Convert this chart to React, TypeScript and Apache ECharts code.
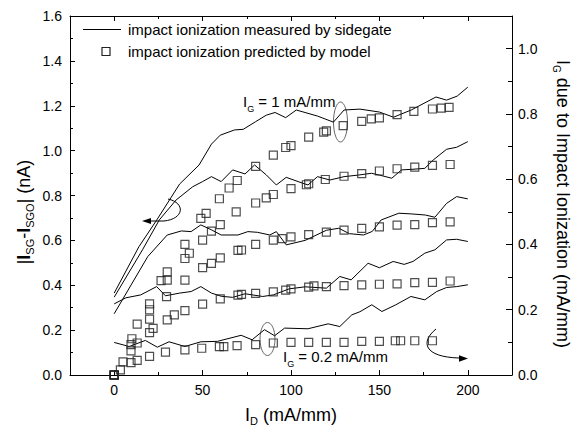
import React, { useEffect, useRef } from "react";
import * as echarts from "echarts";

const FONT = "'Liberation Sans', Arial, Helvetica, sans-serif";

// axis tick labels
const xTickValues = [0, 50, 100, 150, 200];

// measured by sidegate (left axis, nA) - five curves, top to bottom
const measAx = [0, 14, 24, 37, 48, 55, 60, 68, 73, 80, 86, 91, 97, 103, 115, 124, 130, 139, 150, 158, 168, 182, 188, 194, 200];
const measAy = [0.365, 0.572, 0.69, 0.851, 0.936, 1.029, 1.069, 1.092, 1.095, 1.129, 1.158, 1.17, 1.147, 1.181, 1.154, 1.127, 1.181, 1.185, 1.172, 1.149, 1.181, 1.239, 1.225, 1.243, 1.283];

const measBx = [0, 16, 25.5, 35, 44.4, 50, 55, 60.5, 67, 74, 79.4, 86, 91.7, 97.3, 104, 109.6, 115, 122, 130, 138, 145.5, 150, 157, 162.5, 169, 175.7, 180.4, 188, 193.7, 200];
const measBy = [0.347, 0.558, 0.691, 0.78, 0.839, 0.862, 0.884, 0.862, 0.914, 0.896, 0.936, 0.892, 0.847, 0.881, 0.862, 0.847, 0.884, 0.869, 0.884, 0.891, 0.899, 0.891, 0.877, 0.914, 0.917, 0.921, 0.958, 1.006, 1.015, 1.04];

const measCx = [0, 19, 30, 38, 43.5, 49, 55, 60.5, 70, 75.6, 81, 88, 91.7, 97.3, 108, 120, 127, 133, 141, 146, 151, 161, 168, 176, 181.4, 188, 193.7, 200];
const measCy = [0.273, 0.528, 0.624, 0.642, 0.639, 0.669, 0.647, 0.624, 0.624, 0.639, 0.636, 0.624, 0.639, 0.58, 0.6, 0.645, 0.654, 0.63, 0.624, 0.64, 0.691, 0.721, 0.718, 0.713, 0.703, 0.765, 0.795, 0.785];

const measDx = [0, 6.6, 15, 24, 29, 37, 43.5, 49, 55, 60.5, 67, 74, 84, 90, 99, 108, 120, 127.6, 134, 143.6, 150, 157.8, 164, 169, 175.7, 181.4, 188, 193.7, 200];
const measDy = [0.317, 0.344, 0.357, 0.394, 0.353, 0.365, 0.372, 0.394, 0.365, 0.351, 0.346, 0.362, 0.35, 0.357, 0.384, 0.393, 0.387, 0.439, 0.424, 0.498, 0.478, 0.506, 0.493, 0.506, 0.543, 0.558, 0.602, 0.605, 0.595];

const measEx = [0, 8.5, 17.6, 24.4, 31, 40, 49, 58.4, 71.8, 78, 85, 90.7, 96.4, 109.6, 121, 127.6, 134.4, 139, 145.7, 151.4, 159.3, 167.8, 175.7, 182.4, 188, 193.7, 200];
const measEy = [0.145, 0.127, 0.154, 0.124, 0.148, 0.127, 0.148, 0.15, 0.177, 0.157, 0.202, 0.175, 0.209, 0.206, 0.228, 0.216, 0.268, 0.282, 0.313, 0.283, 0.313, 0.35, 0.335, 0.372, 0.39, 0.394, 0.402];

// predicted by model (right axis, mA/mm) - five groups, top to bottom
const predAx = [0, 13, 20, 30, 40, 49, 52, 59.5, 65, 69.6, 80, 90, 97, 100, 110, 118.5, 120, 129.5, 140, 145.4, 150, 160, 169.5, 180, 185, 189.4];
const predAy = [0, 0.156, 0.218, 0.316, 0.4, 0.48, 0.495, 0.54, 0.573, 0.596, 0.639, 0.674, 0.697, 0.703, 0.729, 0.744, 0.748, 0.764, 0.777, 0.785, 0.788, 0.798, 0.808, 0.815, 0.818, 0.82];

const predBx = [0, 10, 20, 26.5, 30, 40, 42.5, 50, 55, 60, 69, 80, 86, 90, 100, 108.7, 110, 119.4, 130, 140, 150, 160, 170, 180, 190];
const predBy = [0, 0.111, 0.2, 0.289, 0.291, 0.357, 0.373, 0.413, 0.441, 0.461, 0.5, 0.527, 0.543, 0.553, 0.571, 0.583, 0.586, 0.599, 0.609, 0.617, 0.625, 0.632, 0.637, 0.642, 0.645];

const predCx = [0, 9.5, 20, 29.6, 40, 50, 55, 60, 70, 72, 80, 90, 95, 100, 110, 120, 130, 140, 150, 160, 170, 180, 190];
const predCy = [0, 0.093, 0.171, 0.24, 0.291, 0.329, 0.342, 0.359, 0.382, 0.383, 0.4, 0.413, 0.418, 0.423, 0.43, 0.438, 0.444, 0.449, 0.454, 0.459, 0.461, 0.467, 0.469];

const predDx = [0, 9.5, 13, 20, 22, 30, 34, 40, 50, 60, 70, 72, 80, 90, 97, 100, 110, 113, 120, 130, 140, 150, 160, 170, 180, 190];
const predDy = [0, 0.074, 0.098, 0.13, 0.143, 0.169, 0.184, 0.197, 0.217, 0.233, 0.245, 0.247, 0.25, 0.255, 0.26, 0.264, 0.269, 0.273, 0.271, 0.274, 0.276, 0.278, 0.279, 0.283, 0.284, 0.288];

const predEx = [0, 3.5, 5, 9.5, 13, 20, 29, 40, 49.5, 59.5, 62, 69.5, 80, 90, 100, 110, 120, 130, 140, 150, 159, 162, 170, 180];
const predEy = [0, 0.016, 0.04, 0.038, 0.045, 0.057, 0.07, 0.077, 0.082, 0.087, 0.087, 0.09, 0.093, 0.098, 0.1, 0.1, 0.1, 0.1, 0.103, 0.103, 0.105, 0.105, 0.105, 0.105];

const zip = (xs: number[], ys: number[]) => xs.map((x, i) => [x, ys[i]]);

export default function App() {
  const ref = useRef<HTMLDivElement>(null);

  useEffect(() => {
    if (!ref.current) return;
    const chart = echarts.init(ref.current, null, { renderer: "svg" });
    const black = "#000";
    const ls = { color: black, width: 1 };
    const isMajorX = (v: number) =>
      v >= 0 && v <= 200 && Math.abs(v - Math.round(v / 50) * 50) < 1e-6;

    const xCommon: any = {
      type: "value",
      min: -25,
      max: 225,
      interval: 25,
      splitLine: { show: false },
    };

    const xAxis: any[] = [
      {
        ...xCommon,
        position: "bottom",
        axisLine: { show: true, onZero: false, lineStyle: ls },
        axisTick: { show: true, inside: true, length: 3, lineStyle: ls },
        axisLabel: {
          show: true,
          margin: 8,
          color: black,
          fontSize: 14,
          fontFamily: FONT,
          formatter: (v: number) => (isMajorX(v) ? String(Math.round(v)) : ""),
        },
      },
      {
        ...xCommon,
        position: "bottom",
        axisLine: { show: false, onZero: false },
        axisTick: { show: true, inside: true, length: 5, lineStyle: ls, customValues: xTickValues },
        axisLabel: { show: false },
      },
      {
        ...xCommon,
        position: "top",
        axisLine: { show: true, onZero: false, lineStyle: ls },
        axisTick: { show: true, inside: true, length: 3, lineStyle: ls },
        axisLabel: { show: false },
      },
      {
        ...xCommon,
        position: "top",
        axisLine: { show: false, onZero: false },
        axisTick: { show: true, inside: true, length: 5, lineStyle: ls, customValues: xTickValues },
        axisLabel: { show: false },
      },
    ];

    const yAxis: any[] = [
      {
        type: "value",
        position: "left",
        min: 0,
        max: 1.6,
        interval: 0.2,
        axisLine: { show: true, onZero: false, lineStyle: ls },
        axisTick: { show: true, inside: true, length: 5, lineStyle: ls },
        minorTick: { show: true, splitNumber: 2, length: 3, lineStyle: ls },
        axisLabel: {
          margin: 8,
          color: black,
          fontSize: 14,
          fontFamily: FONT,
          formatter: (v: number) => v.toFixed(1),
        },
        splitLine: { show: false },
        minorSplitLine: { show: false },
      },
      {
        type: "value",
        position: "right",
        min: 0,
        max: 1.1,
        interval: 0.1,
        axisLine: { show: true, onZero: false, lineStyle: ls },
        axisTick: { show: true, inside: true, length: 4, lineStyle: ls },
        axisLabel: { show: false },
        splitLine: { show: false },
      },
      {
        type: "value",
        position: "right",
        min: 0,
        max: 1.1,
        interval: 0.2,
        axisLine: { show: false, onZero: false },
        axisTick: { show: true, inside: true, length: 6, lineStyle: ls },
        axisLabel: {
          margin: 6,
          color: black,
          fontSize: 14,
          fontFamily: FONT,
          formatter: (v: number) => (v > 1.05 ? "" : v.toFixed(1)),
        },
        splitLine: { show: false },
      },
    ];

    const lineSeries = [
      zip(measAx, measAy),
      zip(measBx, measBy),
      zip(measCx, measCy),
      zip(measDx, measDy),
      zip(measEx, measEy),
    ].map((d, i) => ({
      type: "line",
      name: "measured" + i,
      xAxisIndex: 0,
      yAxisIndex: 0,
      data: d,
      symbol: "none",
      showSymbol: false,
      lineStyle: { color: black, width: 1 },
      silent: true,
      z: 2,
    }));

    const scatterSeries = [
      zip(predAx, predAy),
      zip(predBx, predBy),
      zip(predCx, predCy),
      zip(predDx, predDy),
      zip(predEx, predEy),
    ].map((d, i) => ({
      type: "scatter",
      name: "predicted" + i,
      xAxisIndex: 0,
      yAxisIndex: 2,
      data: d,
      symbol: "rect",
      symbolSize: 8,
      itemStyle: { color: "rgba(255,255,255,0)", borderColor: "#222", borderWidth: 1.2 },
      silent: true,
      z: 3,
    }));

    const txt = (size: number, extra: any = {}) => ({
      fontSize: size,
      fontFamily: FONT,
      fill: black,
      ...extra,
    });

    const graphic: any[] = [
      // legend
      { type: "line", shape: { x1: 83, y1: 29.5, x2: 121, y2: 29.5 }, style: { stroke: black, lineWidth: 1 } },
      {
        type: "text",
        x: 128,
        y: 29,
        style: { text: "impact ionization measured by sidegate", ...txt(15), verticalAlign: "middle", align: "left" },
      },
      { type: "rect", shape: { x: 102, y: 47.5, width: 8, height: 8 }, style: { fill: "none", stroke: "#222", lineWidth: 1.2 } },
      {
        type: "text",
        x: 128,
        y: 51,
        style: { text: "impact ionization predicted by model", ...txt(15), verticalAlign: "middle", align: "left" },
      },
      // annotations
      {
        type: "text",
        x: 243,
        y: 101,
        style: {
          text: "{m|I}{s|G}{m| = 1 mA/mm}",
          align: "left",
          verticalAlign: "middle",
          rich: {
            m: txt(15, { lineHeight: 16 }),
            s: txt(9, { lineHeight: 16, verticalAlign: "top", padding: [11, 0, 0, 0] }),
          },
        },
      },
      {
        type: "text",
        x: 283,
        y: 356,
        style: {
          text: "{m|I}{s|G}{m| = 0.2 mA/mm}",
          align: "left",
          verticalAlign: "middle",
          rich: {
            m: txt(15, { lineHeight: 16 }),
            s: txt(9, { lineHeight: 16, verticalAlign: "top", padding: [11, 0, 0, 0] }),
          },
        },
      },
      { type: "ellipse", shape: { cx: 340.5, cy: 122, rx: 7, ry: 20 }, style: { fill: "none", stroke: "#666", lineWidth: 1 } },
      { type: "ellipse", shape: { cx: 267.5, cy: 339, rx: 7.5, ry: 16.5 }, style: { fill: "none", stroke: "#666", lineWidth: 1 } },
      // left arrow
      {
        type: "bezierCurve",
        shape: { x1: 168, y1: 199, cpx1: 186, cpy1: 203, cpx2: 184, cpy2: 219, x2: 164, y2: 221 },
        style: { fill: "none", stroke: black, lineWidth: 1 },
      },
      { type: "line", shape: { x1: 164, y1: 221, x2: 149, y2: 221 }, style: { stroke: black, lineWidth: 1 } },
      { type: "polygon", shape: { points: [[142, 221], [151, 218], [151, 224]] }, style: { fill: black } },
      // right arrow
      {
        type: "bezierCurve",
        shape: { x1: 436, y1: 329, cpx1: 420, cpy1: 342, cpx2: 424, cpy2: 357, x2: 459, y2: 358 },
        style: { fill: "none", stroke: black, lineWidth: 1 },
      },
      { type: "polygon", shape: { points: [[468, 358.5], [459, 355.3], [459, 361.7]] }, style: { fill: black } },
      // axis titles
      {
        type: "text",
        x: 291,
        y: 415,
        style: {
          text: "{m|I}{s|D}{m| (mA/mm)}",
          align: "center",
          verticalAlign: "middle",
          rich: {
            m: txt(18, { lineHeight: 20 }),
            s: txt(11, { lineHeight: 20, verticalAlign: "top", padding: [10.5, 0, 0, 0] }),
          },
        },
      },
      {
        type: "text",
        x: 24,
        y: 212,
        rotation: Math.PI / 2,
        style: {
          text: "{m||}{b|I}{s|SG}{m|-}{b|I}{s|SGO}{m|| (nA)}",
          align: "center",
          verticalAlign: "middle",
          rich: {
            m: txt(18, { lineHeight: 20 }),
            b: txt(18, { lineHeight: 20, fontWeight: "bold" }),
            s: txt(11, { lineHeight: 20, verticalAlign: "top", padding: [10.5, 0, 0, 0] }),
          },
        },
      },
      {
        type: "text",
        x: 563,
        y: 204,
        rotation: -Math.PI / 2,
        style: {
          text: "{m|I}{s|G}{m| due to Impact Ionization (mA/mm)}",
          align: "center",
          verticalAlign: "middle",
          rich: {
            m: txt(18, { lineHeight: 20 }),
            s: txt(10, { lineHeight: 20, verticalAlign: "top", padding: [12, 0, 0, 0] }),
          },
        },
      },
    ];

    chart.setOption({
      animation: false,
      backgroundColor: "#fff",
      textStyle: { fontFamily: FONT },
      grid: { left: 70, right: 62, top: 16, bottom: 55, containLabel: false },
      xAxis,
      yAxis,
      series: [...lineSeries, ...scatterSeries],
      graphic,
    });

    return () => chart.dispose();
  }, []);

  return (
    <div
      ref={ref}
      style={{ position: "fixed", left: 0, top: 0, width: 574, height: 430, background: "#fff" }}
    />
  );
}
